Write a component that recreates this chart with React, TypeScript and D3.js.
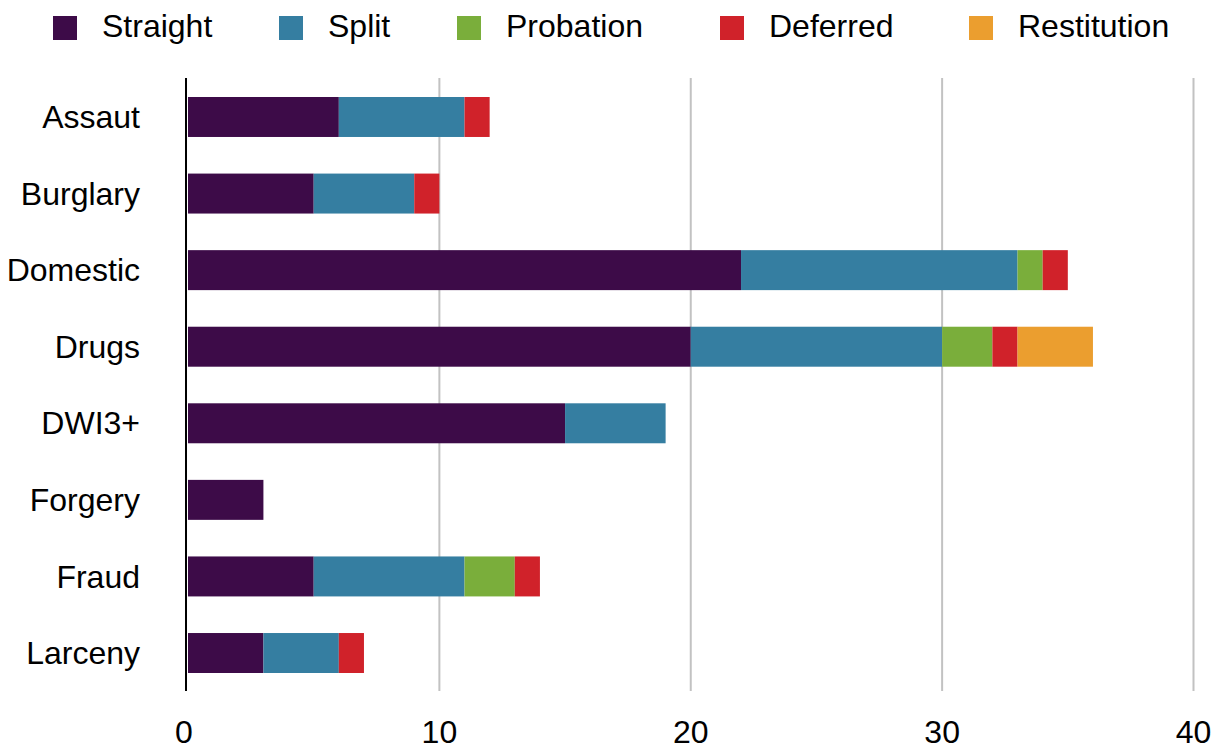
import React from "react";
import * as d3 from "d3";

const categories = ["Assaut", "Burglary", "Domestic", "Drugs", "DWI3+", "Forgery", "Fraud", "Larceny"];
const seriesNames = ["Straight", "Split", "Probation", "Deferred", "Restitution"];
const seriesColors = ["#3d0b48", "#357ea1", "#7aae3b", "#d0222a", "#eb9e2f"];
const straight = [6, 5, 22, 20, 15, 3, 5, 3];
const split = [5, 4, 11, 10, 4, 0, 6, 3];
const probation = [0, 0, 1, 2, 0, 0, 2, 0];
const deferred = [1, 1, 1, 1, 0, 0, 1, 1];
const restitution = [0, 0, 0, 3, 0, 0, 0, 0];
const xTicks = [0, 10, 20, 30, 40];

const W = 1225;
const H = 751;
const FONT = "'Liberation Sans', Arial, Helvetica, sans-serif";
const FS = 32;
const legendX = [53, 279, 457, 720, 969];

export default function App() {
  const seriesValues = [straight, split, probation, deferred, restitution];
  const rows = categories.map((c, i) => {
    const r: any = { cat: c };
    seriesNames.forEach((s, j) => (r[s] = seriesValues[j][i]));
    return r;
  });
  const stacked = d3.stack<any>().keys(seriesNames)(rows);

  const x = d3.scaleLinear().domain([0, 40]).range([188, 1193.5]);
  const y = d3.scaleBand<string>().domain(categories).range([78.7, 691.3]).paddingInner(0.478).paddingOuter(0.239);

  return (
    <div style={{ position: "absolute", left: 0, top: 0 }}>
      <svg width={W} height={H} style={{ display: "block", fontFamily: FONT }}>
        <rect width={W} height={H} fill="#fff" />
        {seriesNames.map((s, i) => (
          <g key={s}>
            <rect x={legendX[i]} y={16} width={24} height={24} fill={seriesColors[i]} />
            <text x={legendX[i] + 49} y={37} fontSize={FS} fill="#000">{s}</text>
          </g>
        ))}
        {xTicks.filter((t) => t > 0).map((t) => (
          <line key={t} x1={x(t)} x2={x(t)} y1={78} y2={691} stroke="#c2c2c2" strokeWidth={2} />
        ))}
        {stacked.map((s, si) => (
          <g key={s.key} fill={seriesColors[si]}>
            {s.map((d, i) =>
              d[1] - d[0] > 0 ? (
                <rect key={i} x={x(d[0])} y={y(categories[i])} width={x(d[1]) - x(d[0])} height={y.bandwidth()} />
              ) : null
            )}
          </g>
        ))}
        <line x1={186} x2={186} y1={78} y2={691} stroke="#000" strokeWidth={2} />
        {categories.map((c) => (
          <text key={c} x={140} y={(y(c) as number) + y.bandwidth() / 2} dy="0.35em" textAnchor="end" fontSize={FS} fill="#000">{c}</text>
        ))}
        {xTicks.map((t) => (
          <text key={t} x={t === 0 ? 184 : x(t)} y={743} textAnchor="middle" fontSize={FS} fill="#000">{t}</text>
        ))}
      </svg>
    </div>
  );
}
